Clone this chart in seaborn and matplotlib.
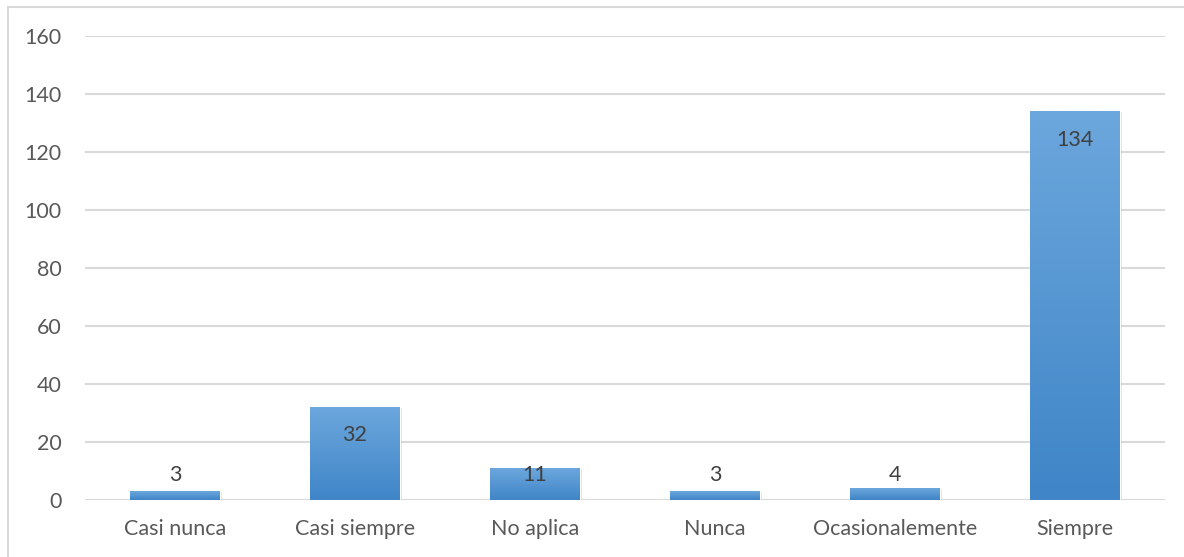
import matplotlib
matplotlib.use("Agg")
import matplotlib.pyplot as plt
import matplotlib.patches as mpatches
from matplotlib.colors import LinearSegmentedColormap
import numpy as np
import pandas as pd
import seaborn as sns

categories = ["Casi nunca", "Casi siempre", "No aplica", "Nunca", "Ocasionalemente", "Siempre"]
counts = [3, 32, 11, 3, 4, 134]
yticks = [0, 20, 40, 60, 80, 100, 120, 140, 160]

sns.set_theme(style="white")
plt.rcParams['font.family'] = ['Lato', 'DejaVu Sans']

W, H = 1184, 557
fig = plt.figure(figsize=(W / 100, H / 100), dpi=100)
fig.set_facecolor('white')

# chart border (only left/top visible in the reference)
fig.patches.append(mpatches.Rectangle((8 / W, -0.1), 1.2, 1 - 7 / H + 0.1,
                                      transform=fig.transFigure, fill=False,
                                      edgecolor='#d9d9d9', linewidth=1.5))

ax = fig.add_axes([85 / W, (H - 500) / H, (1165 - 85) / W, (500 - 36) / H])
df = pd.DataFrame({'cat': categories, 'n': counts})
sns.barplot(data=df, x='cat', y='n', color='#5b9bd5', width=0.5, ax=ax,
            saturation=1, zorder=3)

ax.set_ylim(0, 160)
ax.set_yticks(yticks)
ax.set_xlim(-0.5, len(categories) - 0.5)
ax.yaxis.grid(True, color='#d9d9d9', linewidth=1.5, zorder=0)
ax.set_axisbelow(True)
for s in ax.spines.values():
    s.set_visible(False)
ax.set_xlabel('')
ax.set_ylabel('')
ax.tick_params(axis='both', length=0, labelsize=15.5, labelcolor='#595959')
ax.tick_params(axis='y', pad=17)
ax.tick_params(axis='x', pad=14)

# gradient fill on each bar
cmap = LinearSegmentedColormap.from_list('bar', ['#3f85c7', '#6ca7dd'])
grad = np.linspace(0, 1, 256).reshape(-1, 1)
for p in ax.patches:
    x0, y0 = p.get_x(), p.get_y()
    w, h = p.get_width(), p.get_height()
    # soft shadow
    ax.add_patch(mpatches.Rectangle((x0 + 0.012, y0), w, h - 0.3, facecolor='#000000',
                                    alpha=0.12, linewidth=0, zorder=2))
    im = ax.imshow(grad, cmap=cmap, origin='lower', aspect='auto',
                   extent=(x0, x0 + w, y0, y0 + h), zorder=4)
    im.set_clip_path(p)
ax.set_xlim(-0.5, len(categories) - 0.5)
ax.set_ylim(0, 160)

for i, v in enumerate(counts):
    ax.text(i, max(v - 9.7, 8.6), str(v), ha='center', va='center',
            fontsize=15.5, color='#404040', zorder=6)

fig.savefig('out.png', dpi=100, facecolor='white')
